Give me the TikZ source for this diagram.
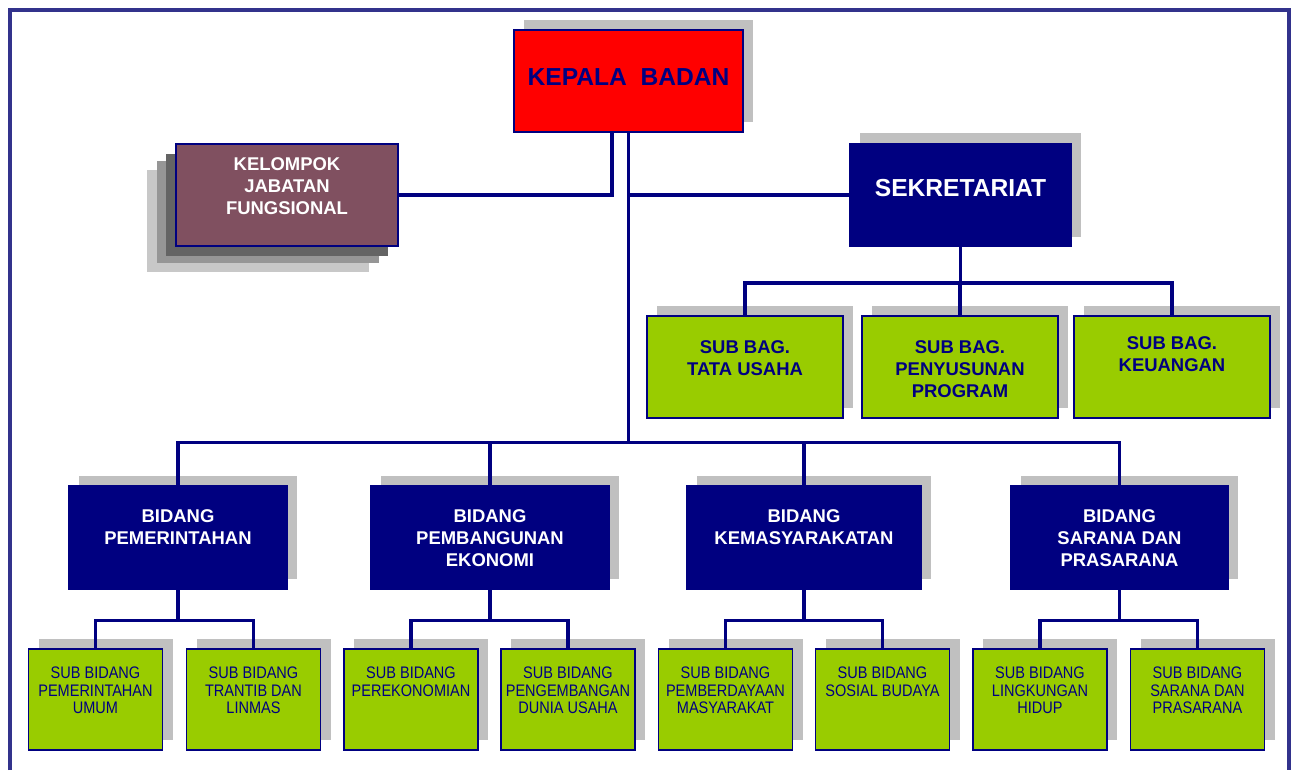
\documentclass[tikz,border=0pt]{standalone}
\usepackage{fontspec}
\setmainfont{Liberation Sans}
\newfontfamily\narrowsans{Liberation Sans}[FakeStretch=0.87]
\usetikzlibrary{positioning,shadows}

\definecolor{navyblue}{RGB}{0,0,128}
\definecolor{frameblue}{RGB}{50,50,140}
\definecolor{kbred}{RGB}{255,0,0}
\definecolor{limegreen}{RGB}{153,204,0}
\definecolor{mauve}{RGB}{128,80,96}
\definecolor{shadowgray}{RGB}{192,192,192}
\definecolor{shadelight}{RGB}{200,200,200}
\definecolor{shademid}{RGB}{150,150,150}
\definecolor{shadedark}{RGB}{100,100,100}

\tikzset{
  plainbox/.style={rectangle, draw=navyblue, line width=0.6pt, inner sep=0pt},
  box/.style={plainbox, drop shadow={shadow xshift=0.2cm, shadow yshift=0.2cm, fill=shadowgray, opacity=1}},
  headbox/.style={box, fill=kbred, minimum width=4.58cm, minimum height=2.04cm},
  secbox/.style={box, fill=navyblue, minimum width=4.42cm, minimum height=2.06cm},
  fungbox/.style={plainbox, fill=mauve, minimum width=4.44cm, minimum height=2.04cm,
    drop shadow={shadow xshift=-0.58cm, shadow yshift=-0.52cm, fill=shadelight, opacity=1},
    drop shadow={shadow xshift=-0.38cm, shadow yshift=-0.34cm, fill=shademid, opacity=1},
    drop shadow={shadow xshift=-0.2cm, shadow yshift=-0.2cm, fill=shadedark, opacity=1}},
  bagbox/.style={box, fill=limegreen, minimum width=3.92cm, minimum height=2.04cm},
  bidbox/.style={box, fill=navyblue, minimum height=2.06cm},
  subbox/.style={box, fill=limegreen, minimum width=2.68cm, minimum height=2.02cm},
  bigtext/.style={inner sep=0pt, align=center, font=\fontsize{14}{17}\selectfont\bfseries},
  boldtext/.style={inner sep=0pt, align=center, font=\fontsize{10.5}{12.5}\selectfont\bfseries},
  subtext/.style={inner sep=0pt, align=center, text=navyblue, font=\narrowsans\fontsize{9.5}{10}\selectfont},
  link/.style={draw=navyblue, line width=2.2pt},
}

\begin{document}
\begin{tikzpicture}
  \useasboundingbox (0,0) rectangle (25.82,15.4);
  % frame
  \draw[frameblue, line width=1.8pt] (0.2,0) -- (0.2,15.2) -- (25.78,15.2) -- (25.78,0);

  % top level
  \node[headbox, label={[bigtext, text=navyblue, below=0.78cm]north:KEPALA\ \ BADAN}] (kb) at (12.57,13.78) {};
  \node[fungbox, label={[boldtext, text=white, below=0.28cm]north:KELOMPOK\\JABATAN\\FUNGSIONAL}] (kjf) at (5.74,11.5) {};
  \node[secbox, label={[bigtext, text=white, below=0.72cm]north:SEKRETARIAT}] (sek) at (19.21,11.5) {};

  % sub bagian
  \node[bagbox, label={[boldtext, text=navyblue, below=0.5cm]north:SUB BAG.\\TATA USAHA}] (tu) at (14.9,8.06) {};
  \node[bagbox, label={[boldtext, text=navyblue, below=0.5cm]north:SUB BAG.\\PENYUSUNAN\\PROGRAM}] (pp) at (19.2,8.06) {};
  \node[bagbox, label={[boldtext, text=navyblue, below=0.42cm]north:SUB BAG.\\KEUANGAN}] (ku) at (23.44,8.06) {};

  % bidang
  \node[bidbox, minimum width=4.36cm, label={[boldtext, text=white, below=0.47cm]north:BIDANG\\PEMERINTAHAN}] (bpem) at (3.56,4.65) {};
  \node[bidbox, minimum width=4.76cm, label={[boldtext, text=white, below=0.47cm]north:BIDANG\\PEMBANGUNAN\\EKONOMI}] (beko) at (9.8,4.65) {};
  \node[bidbox, minimum width=4.68cm, label={[boldtext, text=white, below=0.47cm]north:BIDANG\\KEMASYARAKATAN}] (bkem) at (16.08,4.65) {};
  \node[bidbox, minimum width=4.34cm, label={[boldtext, text=white, below=0.47cm]north:BIDANG\\SARANA DAN\\PRASARANA}] (bsar) at (22.39,4.65) {};

  % sub bidang
  \node[subbox, label={[subtext, below=0.36cm]north:SUB BIDANG\\PEMERINTAHAN\\UMUM}] (sumum) at (1.91,1.41) {};
  \node[subbox, label={[subtext, below=0.36cm]north:SUB BIDANG\\TRANTIB DAN\\LINMAS}] (slinmas) at (5.07,1.41) {};
  \node[subbox, label={[subtext, below=0.36cm]north:SUB BIDANG\\PEREKONOMIAN}] (sekon) at (8.22,1.41) {};
  \node[subbox, label={[subtext, below=0.36cm]north:SUB BIDANG\\PENGEMBANGAN\\DUNIA USAHA}] (susaha) at (11.36,1.41) {};
  \node[subbox, label={[subtext, below=0.36cm]north:SUB BIDANG\\PEMBERDAYAAN\\MASYARAKAT}] (smas) at (14.51,1.41) {};
  \node[subbox, label={[subtext, below=0.36cm]north:SUB BIDANG\\SOSIAL BUDAYA}] (ssos) at (17.65,1.41) {};
  \node[subbox, label={[subtext, below=0.36cm]north:SUB BIDANG\\LINGKUNGAN\\HIDUP}] (sling) at (20.8,1.41) {};
  \node[subbox, label={[subtext, below=0.36cm]north:SUB BIDANG\\SARANA DAN\\PRASARANA}] (spras) at (23.95,1.41) {};

  % connectors
  \coordinate (kbl) at ([xshift=-0.33cm]kb.south);
  \draw[link] (kjf.east) -| (kbl);
  \draw[link] (kb.south |- sek.west) -- (sek.west);
  \foreach \b in {bpem,beko,bkem,bsar}
    \draw[link] (kb.south) -- ++(0,-6.2) -| (\b.north);
  \foreach \c in {tu,pp,ku}
    \draw[link] (sek.south) -- ++(0,-0.72) -| (\c.north);
  \foreach \p/\l/\r in {bpem/sumum/slinmas, beko/sekon/susaha, bkem/smas/ssos, bsar/sling/spras}{
    \draw[link] (\p.south) -- ++(0,-0.62) -| (\l.north);
    \draw[link] (\p.south) -- ++(0,-0.62) -| (\r.north);
  }
\end{tikzpicture}
\end{document}
